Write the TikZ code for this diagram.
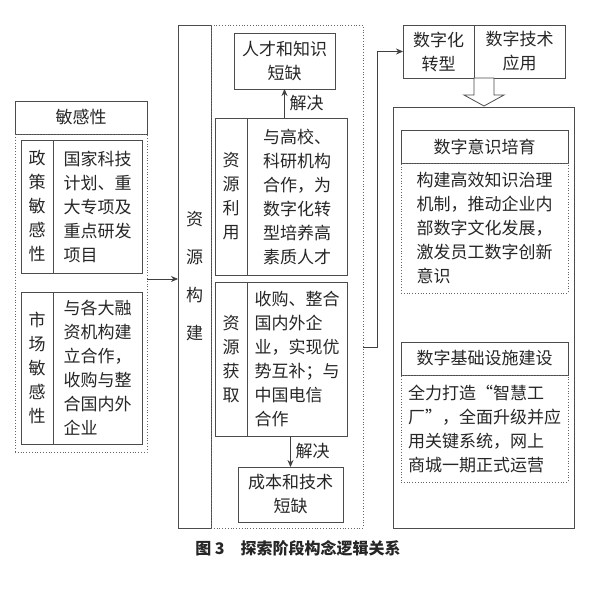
\documentclass[tikz,border=0pt]{standalone}
\usepackage{fontspec}
\setmainfont{Noto Sans CJK SC}
\usetikzlibrary{arrows.meta}
\begin{document}
\begin{tikzpicture}[x=1pt,y=-1pt,
  every node/.style={inner sep=0pt,outer sep=0pt,font=\fontsize{17}{24}\selectfont,text=black!85,align=center},
  bx/.style={draw=black!70,line width=0.8pt,minimum width=#1},
  dt/.style={draw=black!60,dotted,line width=0.8pt,minimum width=#1},
  arr/.style={draw=black!75,line width=0.8pt,-{Stealth[length=7pt,width=6pt]}}]
\useasboundingbox[fill=white] (0,0) rectangle (600,591);
% left
\node[bx=132,minimum height=33] (ls) at (81,117.5) {敏感性};
\node[dt=132,minimum height=318] (lsd) at (81,293) {};
\node[bx=32,minimum height=133] (pl) at (37,206.5) {政\\策\\敏\\感\\性};
\node[bx=89,minimum height=133,align=left] (pt) at (97.5,206.5) {国家科技\\计划、重\\大专项及\\重点研发\\项目};
\node[bx=32,minimum height=152] (ml) at (37,368) {市\\场\\敏\\感\\性};
\node[bx=89,minimum height=152,align=left] (mt) at (97.5,368) {与各大融\\资机构建\\立合作，\\收购与整\\合国内外\\企业};
\coordinate (ay) at (0,279);
% middle
\node[bx=33,minimum height=503,font=\fontsize{17}{38}\selectfont] (zy) at (194.5,276.5) {资\\源\\构\\建};
\node[dt=152,minimum height=503] (md) at (287,276.5) {};
\draw[arr] (lsd.east |- ay) -- (zy.west |- ay);
\node[bx=101,minimum height=56] (rc) at (284.5,61) {人才和知识\\短缺};
\node[bx=32,minimum height=157] (rul) at (231,196.5) {资\\源\\利\\用};
\node[bx=100,minimum height=157,align=left] (rut) at (297,196.5) {与高校、\\科研机构\\合作，为\\数字化转\\型培养高\\素质人才};
\node[bx=32,minimum height=154] (rhl) at (231,359) {资\\源\\获\\取};
\node[bx=100,minimum height=154,align=left] (rht) at (297,359) {收购、整合\\国内外企\\业，实现优\\势互补；与\\中国电信\\合作};
\node[bx=105,minimum height=55] (cb) at (290.5,494.5) {成本和技术\\短缺};
\draw[arr] (rc.south |- rut.north) -- node[right=5pt] {解决} (rc.south);
\draw[arr] (cb.north |- rht.south) -- node[right=5pt] {解决} (cb.north);
% right
\node[bx=71,minimum height=53] (dz) at (438.5,51.5) {数字化\\转型};
\node[bx=91,minimum height=53] (ya) at (519.5,51.5) {数字技术\\应用};
\coordinate (k) at (377,347);
\draw[arr] (md.east |- k) -- (k) |- (dz.west);
\node[bx=181,minimum height=421] (big) at (483.5,317.5) {};
\draw[draw=black!70,line width=0.8pt,fill=white] (474,78) -- (494,78) -- (494,95) -- (504,95) -- (484,106) -- (464,95) -- (474,95) -- cycle;
\node[bx=167,minimum height=33] (t1) at (484.5,146.5) {数字意识培育};
\node[dt=167,minimum height=130,align=left] (b1) at (484.5,228) {构建高效知识治理\\机制，推动企业内\\部数字文化发展，\\激发员工数字创新\\意识};
\node[bx=167,minimum height=33] (t2) at (484.5,358.5) {数字基础设施建设};
\node[dt=167,minimum height=107,align=left] (b2) at (484.5,428.5) {全力打造“智慧工\\厂”，全面升级并应\\用关键系统，网上\\商城一期正式运营};
\node[font=\bfseries\fontsize{16}{20}\selectfont] (cap) at (298,548) {图 3\hspace{1em}探索阶段构念逻辑关系};
\end{tikzpicture}
\end{document}
